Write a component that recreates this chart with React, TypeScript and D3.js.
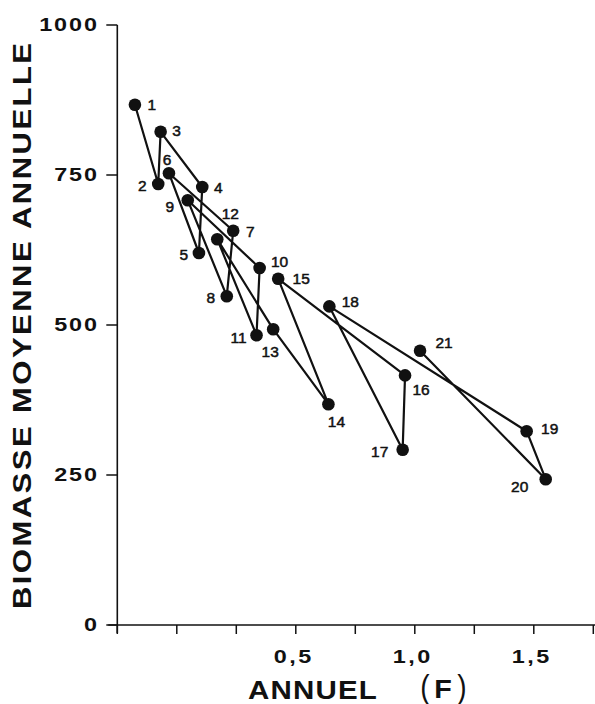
import React, { useEffect, useRef } from "react";
import * as d3 from "d3";

const width = 595;
const height = 704;

// years 1..21, fishing mortality F vs mean annual biomass
const years = [1, 2, 3, 4, 5, 6, 7, 8, 9, 10, 11, 12, 13, 14, 15, 16, 17, 18, 19, 20, 21];
const fValues = [
  -0.176, -0.078, -0.068, 0.107, 0.093, -0.033, 0.237, 0.21, 0.046, 0.348, 0.335,
  0.17, 0.405, 0.637, 0.426, 0.959, 0.949, 0.641, 1.47, 1.55, 1.022,
];
const biomass = [
  867, 735, 822, 730, 620, 753, 657, 548, 708, 595, 483, 643, 493, 368, 577, 416,
  292, 531, 323, 243, 457,
];

const xTicks = [-0.25, 0, 0.25, 0.5, 0.75, 1, 1.25, 1.5, 1.75];
const xTickLabels = ["", "", "", "0,5", "", "1,0", "", "1,5", ""];
const yTicks = [0, 250, 500, 750, 1000];

// where each year label sits around its dot (dx, dy)
const labelOffsets = [
  [17, 0], [-16, 1], [16, -1], [16, 0], [-15, 1], [-2, -14], [17, 1], [-16, 1],
  [-18, 6], [20, -7], [-18, 2], [13, -26], [-3, 22], [8, 17], [23, 0], [16, 14],
  [-23, 2], [21, -5], [23, -3], [-26, 7], [24, -8],
];

const xScale = d3.scaleLinear([-0.25, 1.75], [117.3, 593.3]);
const yScale = d3.scaleLinear([0, 1000], [625, 25]);

const font = "'Liberation Sans', Arial, Helvetica, sans-serif";

export default function App() {
  const ref = useRef<SVGSVGElement>(null);

  useEffect(() => {
    const svg = d3.select(ref.current);
    svg.selectAll("*").remove();

    const x0 = xScale(-0.25);
    const y0 = yScale(0);

    // axes lines
    svg.append("line")
      .attr("x1", x0).attr("x2", x0)
      .attr("y1", yScale(1000)).attr("y2", y0 + 8)
      .attr("stroke", "#111").attr("stroke-width", 1.6);
    svg.append("line")
      .attr("x1", x0 - 9).attr("x2", width)
      .attr("y1", y0).attr("y2", y0)
      .attr("stroke", "#111").attr("stroke-width", 1.6);

    // y ticks
    const yg = svg.append("g");
    yg.selectAll("line").data(yTicks).join("line")
      .attr("x1", x0 - 11).attr("x2", x0)
      .attr("y1", (d) => yScale(d)).attr("y2", (d) => yScale(d))
      .attr("stroke", "#111").attr("stroke-width", 1.5);
    yg.selectAll("text").data(yTicks).join("text")
      .attr("transform", (d) => `translate(99,${yScale(d)}) scale(1.3,1)`)
      .attr("dy", "0.36em")
      .attr("text-anchor", "end")
      .attr("font-family", font).attr("font-weight", "bold")
      .attr("font-size", 18).attr("letter-spacing", 1.5)
      .attr("fill", "#111")
      .text((d) => String(d));

    // x ticks
    const xg = svg.append("g");
    xg.selectAll("line").data(xTicks).join("line")
      .attr("x1", (d) => xScale(d)).attr("x2", (d) => xScale(d))
      .attr("y1", y0).attr("y2", y0 + 9)
      .attr("stroke", "#111").attr("stroke-width", 1.5);
    xg.selectAll("text").data(xTicks).join("text")
      .attr("transform", (d) => `translate(${xScale(d) - 2},663) scale(1.3,1)`)
      .attr("text-anchor", "middle")
      .attr("font-family", font).attr("font-weight", "bold")
      .attr("font-size", 18).attr("letter-spacing", 2)
      .attr("fill", "#111")
      .text((d, i) => xTickLabels[i]);

    // axis titles
    svg.append("text")
      .attr("transform", "translate(31,326) rotate(-90) scale(1.22,1)")
      .attr("text-anchor", "middle")
      .attr("font-family", font).attr("font-weight", "bold")
      .attr("font-size", 25.5)
      .attr("textLength", 464).attr("lengthAdjust", "spacing")
      .attr("fill", "#111")
      .text("BIOMASSE MOYENNE ANNUELLE");
    svg.append("text")
      .attr("transform", "translate(248,699) scale(1.18,1)")
      .attr("font-family", font).attr("font-weight", "bold")
      .attr("font-size", 25).attr("letter-spacing", 1)
      .attr("fill", "#111")
      .text("ANNUEL");
    const fg = svg.append("g").attr("fill", "#111").attr("font-family", font);
    fg.append("text")
      .attr("transform", "translate(425,698) scale(0.85,1)")
      .attr("text-anchor", "middle")
      .attr("font-size", 33)
      .attr("font-weight", "normal")
      .text("(");
    fg.append("text")
      .attr("transform", "translate(443,698) scale(1.15,1)")
      .attr("text-anchor", "middle")
      .attr("font-size", 25)
      .attr("font-weight", "bold")
      .text("F");
    fg.append("text")
      .attr("transform", "translate(462,698) scale(0.85,1)")
      .attr("text-anchor", "middle")
      .attr("font-size", 33)
      .attr("font-weight", "normal")
      .text(")");

    const pts = years.map((y, i) => ({ year: y, f: fValues[i], b: biomass[i] }));

    const line = d3.line<{ f: number; b: number }>()
      .x((d) => xScale(d.f))
      .y((d) => yScale(d.b));

    svg.append("path")
      .datum(pts)
      .attr("d", line)
      .attr("fill", "none")
      .attr("stroke", "#111")
      .attr("stroke-width", 2.2)
      .attr("stroke-linejoin", "round");

    svg.append("g").selectAll("circle").data(pts).join("circle")
      .attr("cx", (d) => xScale(d.f))
      .attr("cy", (d) => yScale(d.b))
      .attr("r", 6.3)
      .attr("fill", "#111");

    svg.append("g").selectAll("text").data(pts).join("text")
      .attr("x", (d, i) => xScale(d.f) + labelOffsets[i][0])
      .attr("y", (d, i) => yScale(d.b) + labelOffsets[i][1])
      .attr("dy", "0.36em")
      .attr("text-anchor", "middle")
      .attr("font-family", font)
      .attr("font-size", 15.5)
      .attr("fill", "#111")
      .attr("stroke", "#111")
      .attr("stroke-width", 0.5)
      .text((d) => String(d.year));
  }, []);

  return (
    <svg
      ref={ref}
      width={width}
      height={height}
      style={{ position: "absolute", left: 0, top: 0, background: "#fff" }}
    />
  );
}
